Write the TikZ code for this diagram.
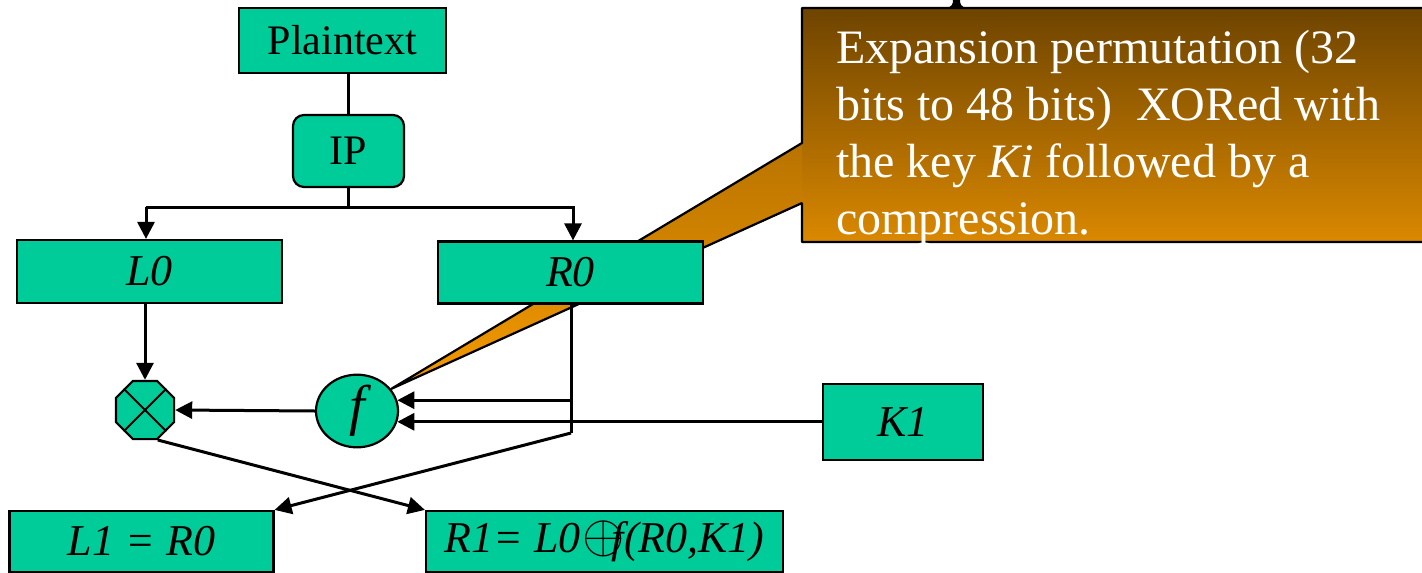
\RequirePackage{fix-cm}
\documentclass[tikz,border=0pt]{standalone}
\usepackage{graphicx}
\usepackage{fontspec}
\setmainfont{Liberation Serif}
\usetikzlibrary{arrows.meta,shapes.geometric,calc}
\definecolor{tealbox}{HTML}{00CC99}
\definecolor{brtop}{HTML}{6E4400}
\definecolor{brbot}{HTML}{DA8800}
\definecolor{wtop}{HTML}{B87300}
\definecolor{wbot}{HTML}{F59A00}
\begin{document}
\begin{tikzpicture}[x=1pt,y=-1pt,
  box/.style={draw=black, line width=2.2pt, fill=tealbox, inner sep=0pt,
    font=\fontsize{42}{50}\selectfont},
  itbox/.style={box, font=\fontsize{44}{52}\selectfont\itshape},
  conn/.style={line width=3pt},
  arr/.style={conn, -{Triangle[length=17pt,width=17pt]}}]
\useasboundingbox (0,0) rectangle (1422,573);
\clip (0,0) rectangle (1422,573);
% callout
\fill[top color=wtop, bottom color=wbot] (806,142) -- (391,389) -- (806,202) -- cycle;
\fill[top color=brtop, bottom color=brbot] (802,8) rectangle (1440,242);
\draw[line width=2.2pt, line join=bevel] (802,143) -- (802,8) -- (1440,8) -- (1440,242) -- (802,242) -- (802,203) -- (391,389) -- cycle;
\fill[black] (946,8) .. controls (952,7) and (953,4) .. (953,0) -- (960,0) .. controls (960,4) and (961,7) .. (967,8) -- cycle;
\node[anchor=north west, inner sep=0pt, text=white, align=left,
  font=\fontsize{48}{57}\selectfont] (note) at (836,30)
  {Expansion permutation (32\\bits to 48 bits)\ \ XORed with\\the key \textit{Ki} followed by a\\compression.};
% nodes
\node[box, minimum width=207pt, minimum height=65pt] (plain) at (342.5,40.5) {Plaintext};
\node[box, minimum width=111pt, minimum height=72pt, rounded corners=11pt] (ip) at (348.5,151) {IP};
\node[itbox, minimum width=265pt, minimum height=63pt] (L0) at (149.5,271.5) {L0};
\node[itbox, minimum width=265pt, minimum height=62pt] (R0) at (570.5,272.5) {R0};
\node[box, regular polygon, regular polygon sides=8, minimum size=63pt] (xor) at (145,410) {};
\draw[line width=2pt] (xor.north west) -- (xor.south east) (xor.north east) -- (xor.south west);
\node[itbox, ellipse, minimum width=82pt, minimum height=66pt,
  font=\fontsize{56}{60}\selectfont\itshape] (f) at (357,411) {f};
\node[itbox, minimum width=160pt, minimum height=76pt] (K1) at (903,422) {K1};
\node[itbox, minimum width=264pt, minimum height=61pt] (L1) at (141.5,541.5) {L1 = R0};
\node[itbox, minimum width=357pt, minimum height=61pt] (R1) at (604.5,541.5)
  {R1= L0\kern0.05em\scalebox{1.6}{\fontsize{34}{40}\selectfont$\oplus$}\kern-0.3em f(R0,K1)};
% connectors
\coordinate (jL) at (146,207);
\coordinate (jR) at (573,207);
\coordinate (rb) at (571,433);
\draw[conn] (plain.south -| ip.north) -- (ip.north);
\draw[conn] (ip.south) -- (ip.south |- jL);
\draw[arr] (jL) -- (jL |- L0.north);
\draw[arr] (jL) -- (jR) -- (jR |- R0.north);
\draw[arr] (L0.south -| xor.north) -- (xor.north);
\draw[arr] (f.west) -- (xor.east);
\draw[conn] (R0.south -| rb) -- (rb);
\draw[arr] (rb |- f.15) -- (f.15);
\draw[arr] (K1.west |- f.-15) -- (f.-15);
\draw[arr] (rb) -- (L1.north east);
\draw[arr] (xor.-67.5) -- (R1.north west);
\end{tikzpicture}
\end{document}
